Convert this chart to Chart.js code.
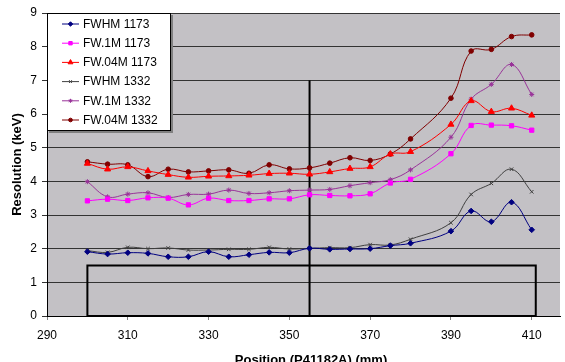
<!DOCTYPE html>
<html>
<head>
<meta charset="utf-8">
<script src="https://cdn.jsdelivr.net/npm/chart.js@4.4.0/dist/chart.umd.min.js"></script>
<style>
  body { margin: 0; background: #fff; }
  #wrap { width: 565px; height: 362px; }
</style>
</head>
<body>
<div id="wrap"><canvas id="mycanvas" width="565" height="362"></canvas></div>
<script>
// positions measured (mm) - no point at 385
var positions = [300,305,310,315,320,325,330,335,340,345,350,355,360,365,370,375,380,390,395,400,405,410];

var fwhm1173  = [1.91,1.84,1.88,1.86,1.76,1.76,1.91,1.76,1.82,1.89,1.88,2.01,1.98,1.99,2.00,2.09,2.16,2.52,3.12,2.80,3.38,2.56];
var fw1m1173  = [3.42,3.47,3.43,3.51,3.50,3.30,3.50,3.43,3.43,3.48,3.48,3.60,3.58,3.57,3.63,3.95,4.06,4.82,5.66,5.67,5.65,5.52];
var fw04m1173 = [4.53,4.36,4.43,4.31,4.20,4.12,4.15,4.16,4.18,4.23,4.24,4.21,4.28,4.38,4.43,4.81,4.88,5.69,6.39,6.07,6.17,5.96];
var fwhm1332  = [1.94,1.89,2.04,2.00,2.02,1.96,1.96,1.98,1.98,2.04,1.99,2.01,2.03,2.03,2.12,2.11,2.28,2.77,3.61,3.94,4.36,3.69];
var fw1m1332  = [3.99,3.54,3.62,3.66,3.52,3.61,3.62,3.74,3.64,3.66,3.72,3.74,3.76,3.87,3.96,4.05,4.34,5.31,6.44,6.88,7.47,6.58];
var fw04m1332 = [4.58,4.51,4.49,4.14,4.36,4.28,4.31,4.34,4.24,4.49,4.37,4.40,4.54,4.70,4.62,4.81,5.26,6.47,7.87,7.92,8.30,8.35];

// box and marker line drawn on the plot
var boxX  = [300,300,411,411,300];
var boxY  = [0,1.5,1.5,0,0];
var lineX = [355,355];
var lineY = [0,7];

var xTicks = [290,310,330,350,370,390,410];
var yTicks = [0,1,2,3,4,5,6,7,8,9];

function pts(xs, ys){
    var out = [];
    for (var i in xs){
        out.push({x: xs[i], y: ys[i]});
    }
    return out;
}

function series(label, values, color, style, radius){
    return {
        label: label,
        data: pts(positions, values),
        borderColor: color,
        backgroundColor: color,
        pointBackgroundColor: color,
        pointBorderColor: color,
        borderWidth: 1,
        pointStyle: style,
        pointRadius: radius,
        pointBorderWidth: 1,
        tension: 0.4,
        showLine: true
    };
}

var datasets = [
    series('FWHM 1173',  fwhm1173,  '#000080', 'rectRot', 2.8),
    series('FW.1M 1173', fw1m1173,  '#ff00ff', 'rect', 3),
    series('FW.04M 1173', fw04m1173, '#ff0000', 'triangle', 3.5),
    series('FWHM 1332',  fwhm1332,  '#404040', 'crossRot', 2.5),
    series('FW.1M 1332', fw1m1332,  '#993399', 'star', 2.5),
    series('FW.04M 1332', fw04m1332, '#800000', 'circle', 2.3),
    {
        label: 'box', data: pts(boxX, boxY), borderColor: '#000', borderWidth: 2,
        pointRadius: 0, tension: 0, showLine: true, clip: 4
    },
    {
        label: 'mark', data: pts(lineX, lineY), borderColor: '#000', borderWidth: 2,
        pointRadius: 0, tension: 0, showLine: true, clip: 4
    }
];

var FONT = '"Liberation Sans", Arial, sans-serif';

var decor = {
    id: 'decor',
    beforeDraw: function(chart){
        var a = chart.chartArea, ctx = chart.ctx;
        ctx.save();
        ctx.fillStyle = '#c3c1c5';
        ctx.fillRect(a.left, a.top, a.right - a.left, a.bottom - a.top);
        ctx.strokeStyle = '#999';
        ctx.lineWidth = 1;
        ctx.beginPath();
        ctx.moveTo(a.left, a.top + 0.5);
        ctx.lineTo(a.right, a.top + 0.5);
        ctx.stroke();
        ctx.restore();
    },
    afterDraw: function(chart){
        var a = chart.chartArea, ctx = chart.ctx;
        ctx.save();
        // legend box with shadow
        var lx = a.left, ly = a.top, lw = 124, lh = 118;
        ctx.fillStyle = '#808080';
        ctx.fillRect(lx + 2, ly + 2, lw, lh);
        ctx.fillStyle = '#fff';
        ctx.fillRect(lx, ly, lw, lh);
        ctx.strokeStyle = '#000';
        ctx.lineWidth = 1;
        ctx.strokeRect(lx + 0.5, ly + 0.5, lw - 1, lh - 1);
        ctx.font = '12px ' + FONT;
        ctx.textBaseline = 'middle';
        ctx.textAlign = 'left';
        for (var i = 0; i < 6; i++){
            var ds = chart.data.datasets[i];
            var y = ly + 11 + i * 19.2;
            ctx.strokeStyle = ds.borderColor;
            ctx.lineWidth = 1;
            ctx.beginPath();
            ctx.moveTo(lx + 15, y);
            ctx.lineTo(lx + 32, y);
            ctx.stroke();
            ctx.fillStyle = ds.backgroundColor;
            if (Chart.helpers && Chart.helpers.drawPoint){
                Chart.helpers.drawPoint(ctx, {pointStyle: ds.pointStyle, radius: ds.pointRadius * 0.8, rotation: 0, borderWidth: 1}, lx + 23.5, y);
            }
            ctx.fillStyle = '#000';
            ctx.fillText(ds.label, lx + 36, y + 0.5);
        }
        // axis titles
        ctx.fillStyle = '#000';
        ctx.font = 'bold 13px ' + FONT;
        ctx.textAlign = 'center';
        ctx.textBaseline = 'alphabetic';
        ctx.fillText('Position (P41182A) (mm)', 311, 364);
        ctx.translate(21, (a.top + a.bottom) / 2);
        ctx.rotate(-Math.PI / 2);
        ctx.fillText('Resolution (keV)', 0, 0);
        ctx.restore();
    }
};

var ctx = document.getElementById('mycanvas');
var chart = new Chart(ctx, {
    type: 'scatter',
    data: { datasets: datasets },
    plugins: [decor],
    options: {
        responsive: false,
        animation: false,
        layout: { padding: { top: 13, left: 0, right: 0, bottom: 0 } },
        plugins: { legend: { display: false }, tooltip: { enabled: false } },
        scales: {
            x: {
                type: 'linear', min: 290, max: 417,
                afterBuildTicks: function(scale){
                    scale.ticks = xTicks.map(function(v){ return {value: v}; });
                },
                afterFit: function(scale){ scale.height = 46; },
                grid: { drawOnChartArea: false, tickLength: 4, color: '#808080' },
                border: { display: true, color: '#000', width: 1 },
                ticks: { color: '#000', font: { family: FONT, size: 12 }, padding: 8, maxRotation: 0 }
            },
            y: {
                type: 'linear', min: 0, max: 9,
                afterBuildTicks: function(scale){
                    scale.ticks = yTicks.map(function(v){ return {value: v}; });
                },
                afterFit: function(scale){ scale.width = 47; },
                grid: { color: '#333', tickLength: 5 },
                border: { display: true, color: '#000', width: 1 },
                ticks: { color: '#000', font: { family: FONT, size: 12 }, padding: 5 }
            }
        }
    }
});
</script>
</body>
</html>
